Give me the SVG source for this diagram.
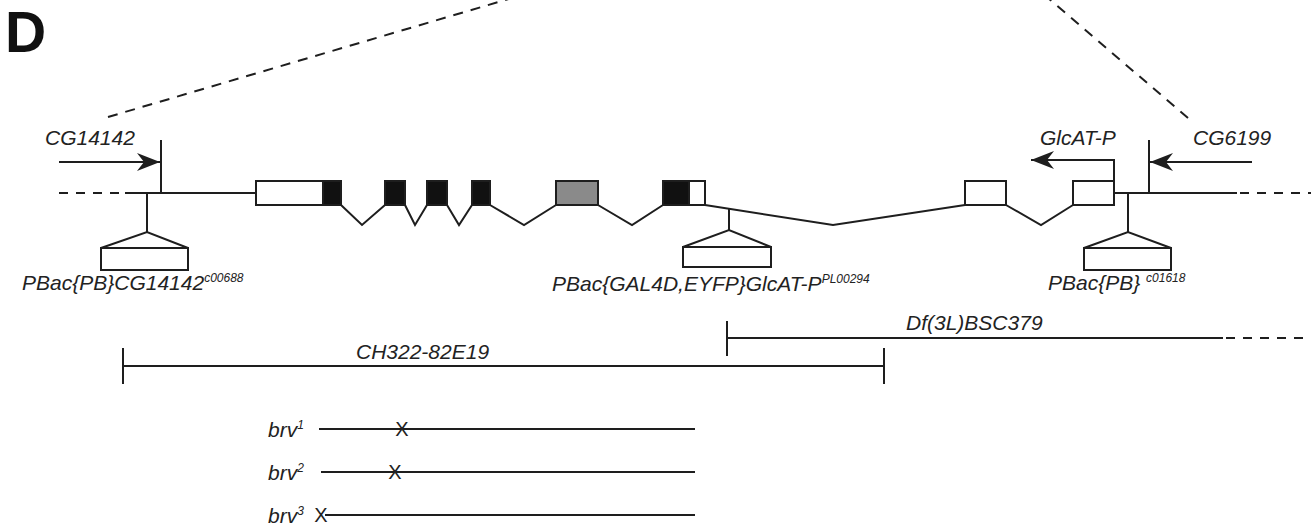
<svg xmlns="http://www.w3.org/2000/svg" width="1311" height="528" viewBox="0 0 1311 528">
<style>
.ln{stroke:#1e1e1e;stroke-width:2;fill:none}
.dash{stroke:#1e1e1e;stroke-width:2;fill:none;stroke-dasharray:10 8}
.ex{stroke:#1e1e1e;stroke-width:2}
.w{fill:#ffffff}
.b{fill:#111111}
.g{fill:#8a8a8a}
.t{font-family:"Liberation Sans",Arial,sans-serif;font-style:italic;font-size:21px;fill:#222}
.sup{font-size:12px}
.x{font-family:"Liberation Sans",Arial,sans-serif;font-size:20px;fill:#222;text-anchor:middle}
</style>
<defs>
<marker id="ah" viewBox="-24 -10 26 20" markerWidth="26" markerHeight="20" refX="0" refY="0" orient="auto" markerUnits="userSpaceOnUse">
<path d="M0,0 L-23,-9 L-16,0 L-23,9 Z" fill="#1e1e1e"/>
</marker>
</defs>
<rect width="1311" height="528" fill="#ffffff"/>
<text x="5" y="52" style="font-family:'Liberation Sans',Arial,sans-serif;font-weight:bold;font-size:57px;fill:#111">D</text>

<g id="zoom-lines">
<line class="dash" x1="108" y1="117" x2="512" y2="-2"/>
<line class="dash" x1="1188" y1="118" x2="1048" y2="-2"/>
</g>

<g id="connectors">
<line class="dash" x1="59" y1="193" x2="125" y2="193" style="stroke-dasharray:9 8"/>
<line class="ln" x1="125" y1="193" x2="256" y2="193"/>
<line class="ln" x1="1114" y1="193" x2="1237" y2="193"/>
<line class="dash" x1="1240" y1="193" x2="1311" y2="193" style="stroke-dasharray:9 8"/>
<polyline class="ln" points="341,205 362,225 385,205"/>
<polyline class="ln" points="405,205 415,225 427,205"/>
<polyline class="ln" points="447,205 459,225 472,205"/>
<polyline class="ln" points="490,205 524,225 556,205"/>
<polyline class="ln" points="598,205 632,225 663,205"/>
<polyline class="ln" points="705,205 833,225 965,205"/>
<polyline class="ln" points="1006,205 1041,225 1073,205"/>
</g>

<g id="gene-CG14142">
<line class="ln" x1="161" y1="140" x2="161" y2="193"/>
<line class="ln" x1="59" y1="162" x2="160" y2="162" marker-end="url(#ah)"/>
<text class="t" x="45" y="145">CG14142</text>
</g>

<g id="gene-CG6199">
<line class="ln" x1="1149" y1="140" x2="1149" y2="193"/>
<line class="ln" x1="1252" y1="162" x2="1150" y2="162" marker-end="url(#ah)"/>
<text class="t" x="1193" y="145">CG6199</text>
</g>

<g id="gene-GlcAT-P">
<polyline class="ln" points="1114,181 1114,160 1031,160" marker-end="url(#ah)"/>
<text class="t" x="1040" y="145">GlcAT-P</text>
</g>

<g id="exons">
<rect class="ex w" x="256" y="181" width="67" height="24"/>
<rect class="ex b" x="323" y="181" width="18" height="24"/>
<rect class="ex b" x="385" y="181" width="20" height="24"/>
<rect class="ex b" x="427" y="181" width="20" height="24"/>
<rect class="ex b" x="472" y="181" width="18" height="24"/>
<rect class="ex g" x="556" y="181" width="42" height="24"/>
<rect class="ex b" x="663" y="181" width="26" height="24"/>
<rect class="ex w" x="689" y="181" width="16" height="24"/>
<rect class="ex w" x="965" y="181" width="41" height="24"/>
<rect class="ex w" x="1073" y="181" width="41" height="24"/>
</g>

<g id="insertion-c00688">
<line class="ln" x1="147" y1="193" x2="147" y2="232"/>
<polyline class="ln" points="101,248 147,232 188,248"/>
<rect class="ex w" x="101" y="248" width="87" height="22"/>
<text class="t" x="22" y="290">PBac{PB}CG14142<tspan class="sup" dy="-8">c00688</tspan></text>
</g>

<g id="insertion-PL00294">
<line class="ln" x1="729" y1="208" x2="729" y2="230"/>
<polyline class="ln" points="683,247 729,230 771,247"/>
<rect class="ex w" x="683" y="247" width="88" height="20"/>
<text class="t" x="552" y="291">PBac{GAL4D,EYFP}GlcAT-P<tspan class="sup" dy="-8">PL00294</tspan></text>
</g>

<g id="insertion-c01618">
<line class="ln" x1="1128" y1="193" x2="1128" y2="232"/>
<polyline class="ln" points="1084,248 1128,232 1171,248"/>
<rect class="ex w" x="1084" y="248" width="87" height="22"/>
<text class="t" x="1048" y="290">PBac{PB} <tspan class="sup" dy="-8">c01618</tspan></text>
</g>

<g id="Df-3L-BSC379">
<line class="ln" x1="727" y1="321" x2="727" y2="356"/>
<line class="ln" x1="727" y1="338" x2="1223" y2="338"/>
<line class="dash" x1="1226" y1="338" x2="1311" y2="338" style="stroke-dasharray:9 8"/>
<text class="t" x="906" y="330">Df(3L)BSC379</text>
</g>

<g id="CH322-82E19">
<line class="ln" x1="123" y1="348" x2="123" y2="384"/>
<line class="ln" x1="884" y1="348" x2="884" y2="384"/>
<line class="ln" x1="123" y1="366" x2="884" y2="366"/>
<text class="t" x="356" y="359">CH322-82E19</text>
</g>

<g id="brv1">
<text class="t" x="268" y="437">brv<tspan class="sup" dy="-8">1</tspan></text>
<line class="ln" x1="319" y1="429" x2="695" y2="429"/>
<text class="x" x="402" y="436">X</text>
</g>
<g id="brv2">
<text class="t" x="268" y="480">brv<tspan class="sup" dy="-8">2</tspan></text>
<line class="ln" x1="321" y1="472" x2="695" y2="472"/>
<text class="x" x="395" y="479">X</text>
</g>
<g id="brv3">
<text class="t" x="268" y="523">brv<tspan class="sup" dy="-8">3</tspan></text>
<line class="ln" x1="325" y1="515" x2="695" y2="515"/>
<text class="x" x="321" y="522">X</text>
</g>
</svg>
